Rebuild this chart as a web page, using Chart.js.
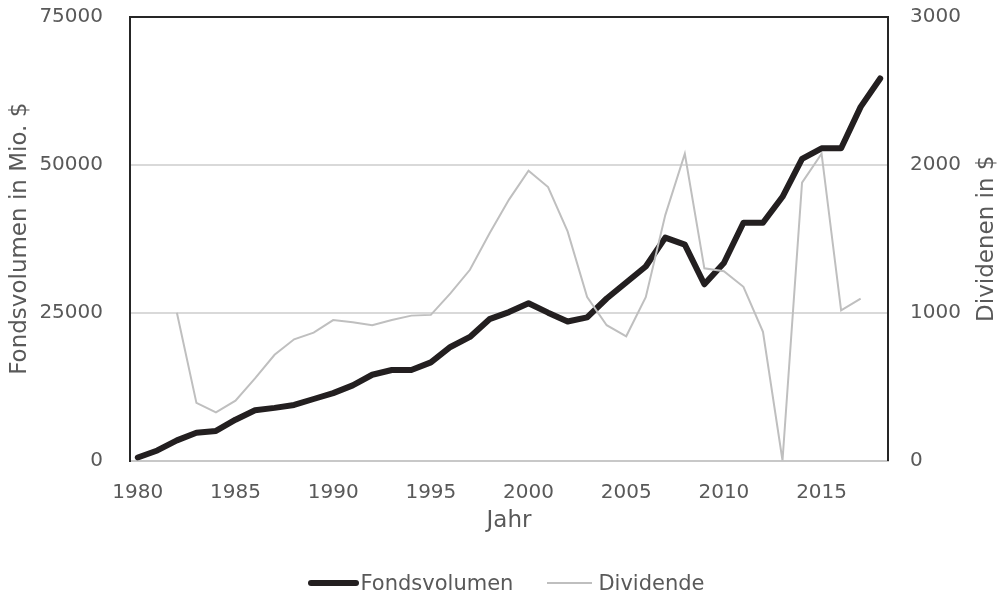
<!DOCTYPE html>
<html>
<head>
<meta charset="utf-8">
<script src="https://cdn.jsdelivr.net/npm/chart.js@4/dist/chart.umd.min.js"></script>
<style>
  html, body { margin: 0; padding: 0; background: #fff; }
  #wrap { position: relative; width: 1003px; height: 597px; }
  #legend {
    position: absolute; left: 0; top: 569px; width: 1003px; height: 28px;
    display: flex; justify-content: center; align-items: center;
    padding-left: 9px; box-sizing: border-box;
    font: 21px 'DejaVu Sans', Verdana, sans-serif; color: #595959;
  }
  #legend .item { display: flex; align-items: center; margin: 0 17px; }
  #legend .swatch { display: inline-block; }
</style>
</head>
<body>
<div id="wrap">
  <canvas id="myChart" width="1003" height="597"></canvas>
  <div id="legend"></div>
</div>
<script>
const years = [1980, 1981, 1982, 1983, 1984, 1985, 1986, 1987, 1988, 1989,
  1990, 1991, 1992, 1993, 1994, 1995, 1996, 1997, 1998, 1999,
  2000, 2001, 2002, 2003, 2004, 2005, 2006, 2007, 2008, 2009,
  2010, 2011, 2012, 2013, 2014, 2015, 2016, 2017, 2018];

const fondsvolumen = [500, 1700, 3400, 4700, 5000, 6900, 8500, 8900, 9400, 10400,
  11400, 12700, 14500, 15300, 15300, 16600, 19200, 20900, 23900, 25100,
  26600, 25000, 23500, 24200, 27400, 30100, 32800, 37700, 36500, 29800,
  33400, 40200, 40200, 44600, 51000, 52800, 52800, 59800, 64600];

const dividende = [null, null, 1000, 390, 325, 405, 555, 715, 820, 865,
  950, 935, 915, 950, 980, 985, 1130, 1290, 1535, 1765,
  1960, 1850, 1550, 1105, 915, 840, 1105, 1660, 2075, 1300,
  1280, 1175, 870, 0, 1880, 2075, 1015, 1095, null];

const xTicks = [1980, 1985, 1990, 1995, 2000, 2005, 2010, 2015];
const leftTicks = [0, 25000, 50000, 75000];
const rightTicks = [0, 1000, 2000, 3000];

const textColor = "#595959";
const darkLine = "#262626";
const lightLine = "#d9d9d9";
const fontFamily = "'DejaVu Sans', Verdana, sans-serif";

// right title reads bottom-to-top, chart.js would turn it the other way
const rightTitle = {
  id: "rightTitle",
  afterDraw(chart) {
    const s = chart.scales.y1;
    const ctx = chart.ctx;
    ctx.save();
    ctx.fillStyle = textColor;
    ctx.font = "23px " + fontFamily;
    ctx.textAlign = "center";
    ctx.textBaseline = "middle";
    ctx.translate(s.right - 16, (chart.chartArea.top + chart.chartArea.bottom) / 2);
    ctx.rotate(-Math.PI / 2);
    ctx.fillText("Dividenen in $", 0, 0);
    ctx.restore();
  }
};

// html legend, line swatch sits right against the text like in excel
const htmlLegend = {
  id: "htmlLegend",
  afterUpdate(chart) {
    const box = document.getElementById("legend");
    box.innerHTML = "";
    chart.data.datasets.forEach((ds) => {
      const item = document.createElement("span");
      item.className = "item";
      const sw = document.createElement("span");
      sw.className = "swatch";
      const thick = ds.borderWidth > 3;
      sw.style.width = thick ? "51px" : "45px";
      sw.style.height = ds.borderWidth + "px";
      sw.style.background = ds.borderColor;
      sw.style.borderRadius = thick ? "3px" : "0";
      sw.style.marginRight = thick ? "2px" : "6px";
      const tx = document.createElement("span");
      tx.textContent = ds.label;
      item.appendChild(sw);
      item.appendChild(tx);
      box.appendChild(item);
    });
  }
};

new Chart(document.getElementById("myChart"), {
  type: "line",
  data: {
    labels: years,
    datasets: [
      {
        label: "Fondsvolumen",
        data: fondsvolumen,
        yAxisID: "y",
        borderColor: "#231f20",
        backgroundColor: "#231f20",
        borderWidth: 6,
        borderCapStyle: "round",
        borderJoinStyle: "round",
        pointRadius: 0,
        tension: 0,
        order: 1
      },
      {
        label: "Dividende",
        data: dividende,
        yAxisID: "y1",
        borderColor: "#bfbfbf",
        backgroundColor: "#bfbfbf",
        borderWidth: 2,
        pointRadius: 0,
        tension: 0,
        order: 0
      }
    ]
  },
  options: {
    responsive: false,
    animation: false,
    devicePixelRatio: 1,
    layout: { padding: { top: 17, left: 0, right: 0, bottom: 56.5 } },
    plugins: {
      tooltip: { enabled: false },
      legend: { display: false }
    },
    scales: {
      x: {
        type: "linear",
        min: 1979.6,
        max: 2018.4,
        afterBuildTicks: (s) => { s.ticks = xTicks.map(v => ({ value: v })); },
        afterFit: (s) => { s.height = 80; },
        grid: { display: false, drawTicks: false },
        border: { display: true, color: "#c8c8c8", width: 2 },
        ticks: {
          padding: 20,
          color: textColor,
          font: { family: fontFamily, size: 20 },
          callback: (v) => String(v)
        },
        title: {
          display: true,
          text: "Jahr",
          color: textColor,
          font: { family: fontFamily, size: 23 },
          padding: { top: 0, bottom: 6 }
        }
      },
      y: {
        position: "left",
        min: 0,
        max: 75000,
        afterBuildTicks: (s) => { s.ticks = leftTicks.map(v => ({ value: v })); },
        afterFit: (s) => { s.width = 130; },
        grid: {
          drawTicks: true,
          tickLength: 27,
          tickColor: "rgba(0,0,0,0)",
          lineWidth: 2,
          color: (c) => (c.tick && c.tick.value === 75000 ? darkLine : lightLine)
        },
        border: { display: true, color: darkLine, width: 2 },
        ticks: {
          padding: 0,
          color: textColor,
          font: { family: fontFamily, size: 20 },
          callback: (v) => String(v)
        },
        title: {
          display: true,
          text: "Fondsvolumen in Mio. $",
          color: textColor,
          font: { family: fontFamily, size: 23 },
          padding: { top: 6, bottom: 0 }
        }
      },
      y1: {
        position: "right",
        min: 0,
        max: 3000,
        afterBuildTicks: (s) => { s.ticks = rightTicks.map(v => ({ value: v })); },
        afterFit: (s) => { s.width = 115; },
        grid: {
          display: true,
          drawOnChartArea: false,
          drawTicks: true,
          tickLength: 22,
          tickColor: "rgba(0,0,0,0)"
        },
        border: { display: true, color: darkLine, width: 2 },
        ticks: {
          padding: 0,
          color: textColor,
          font: { family: fontFamily, size: 20 },
          callback: (v) => String(v)
        }
      }
    }
  },
  plugins: [rightTitle, htmlLegend]
});
</script>
</body>
</html>
